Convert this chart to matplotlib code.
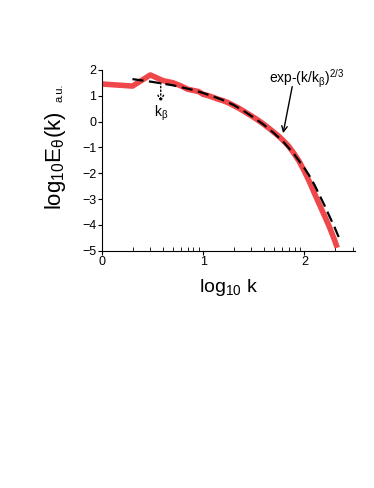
import numpy as np
import matplotlib.pyplot as plt
from matplotlib.ticker import FixedLocator

plt.rcParams['font.family'] = ['Liberation Sans', 'DejaVu Sans']
plt.rcParams['mathtext.fontset'] = 'custom'
plt.rcParams['mathtext.rm'] = 'Liberation Sans'
plt.rcParams['mathtext.it'] = 'Liberation Sans'

# measured spectrum (log10 k, log10 E)
logk_data = [0.0, 0.301, 0.477, 0.602, 0.699, 0.778, 0.845, 0.903, 0.954, 1.0,
             1.05, 1.1, 1.15, 1.2, 1.25, 1.3, 1.35, 1.4, 1.45, 1.5, 1.55, 1.6,
             1.65, 1.7, 1.75, 1.8, 1.85, 1.9, 1.95, 2.0, 2.05, 2.1, 2.15, 2.2,
             2.25, 2.3, 2.325]
logE_data = [1.45, 1.37, 1.8, 1.58, 1.5, 1.38, 1.25, 1.2, 1.16, 1.05,
             1.0, 0.93, 0.86, 0.8, 0.72, 0.62, 0.52, 0.4, 0.28, 0.16, 0.03, -0.11,
             -0.26, -0.42, -0.58, -0.77, -0.98, -1.25, -1.55, -1.92, -2.33, -2.78,
             -3.22, -3.65, -4.1, -4.6, -4.88]

# stretched exponential fit
logk_fit = [0.3, 0.5, 0.7, 0.9, 1.0, 1.1, 1.2, 1.3, 1.4, 1.5, 1.6, 1.7, 1.8,
            1.9, 2.0, 2.05, 2.1, 2.16, 2.2, 2.25, 2.3, 2.345]
logE_fit = [1.64, 1.53, 1.40, 1.22, 1.1, 0.97, 0.82, 0.64, 0.41, 0.15, -0.13,
            -0.45, -0.82, -1.27, -1.8, -2.1, -2.45, -2.93, -3.25, -3.68, -4.1,
            -4.52]

fig = plt.figure(figsize=(3.74, 4.88), dpi=100)
ax = fig.add_axes([0.273, 0.486, 0.676, 0.371])

ax.plot(logk_data, logE_data, color='#f0474a', lw=4, solid_capstyle='butt',
        solid_joinstyle='round')
ax.plot(logk_fit, logE_fit, color='black', lw=1.6, dashes=(5, 2.5))

ax.set_xlim(0, 2.5)
ax.set_ylim(-5, 2)
ax.spines['top'].set_visible(False)
ax.spines['right'].set_visible(False)

ax.set_xticks([0, 1, 2])
minors = [np.log10(m) + d for d in (0, 1, 2) for m in range(2, 10)]
ax.xaxis.set_minor_locator(FixedLocator([v for v in minors if v < 2.5]))
ax.set_yticks(range(-5, 3))
ax.tick_params(axis='x', which='major', direction='out', length=3, labelsize=9, pad=1)
ax.tick_params(axis='x', which='minor', direction='in', length=3)
ax.tick_params(axis='y', direction='out', length=3, labelsize=9, pad=1)

ax.set_xlabel(r'log$_{10}$ k', fontsize=14, labelpad=6)
ax.set_ylabel(r'log$_{10}$E$_\theta$(k)', fontsize=16, labelpad=10)
fig.text(0.16, 0.81, 'a.u.', rotation=90, fontsize=8, ha='center', va='center')

ax.annotate('', xy=(0.58, 0.74), xytext=(0.58, 1.5),
            arrowprops=dict(arrowstyle='->', ls=':', color='black', lw=1,
                            shrinkA=0, shrinkB=0))
ax.text(0.58, 0.33, r'k$_\beta$', fontsize=10, ha='center', va='center')

ax.annotate('', xy=(1.79, -0.45), xytext=(1.88, 1.35),
            arrowprops=dict(arrowstyle='->', color='black', lw=1,
                            shrinkA=0, shrinkB=0))
ax.text(2.02, 1.65, r'exp-(k/k$_\beta$)$^{2/3}$', fontsize=10, ha='center', va='center')

plt.savefig('out.png', dpi=100)
